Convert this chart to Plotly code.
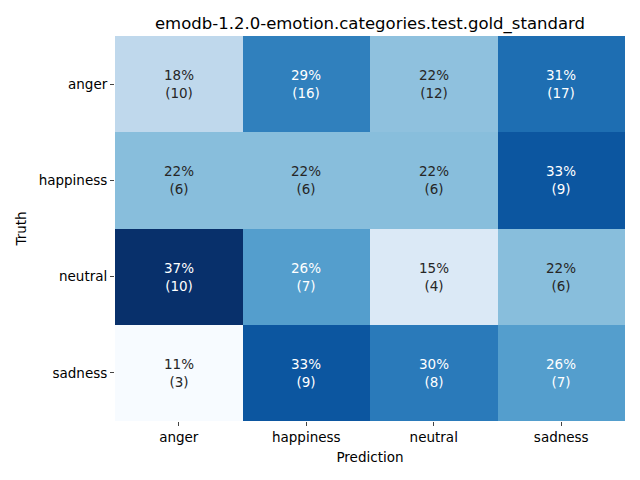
import plotly.graph_objects as go
import numpy as np

labels = ["anger", "happiness", "neutral", "sadness"]
counts = [
    [10, 16, 12, 17],
    [6, 6, 6, 9],
    [10, 7, 4, 6],
    [3, 9, 8, 7],
]
title = "emodb-1.2.0-emotion.categories.test.gold_standard"

blues = ["#f7fbff", "#deebf7", "#c6dbef", "#9ecae1", "#6baed6",
         "#4292c6", "#2171b5", "#08519c", "#08306b"]
colorscale = [[i / (len(blues) - 1), c] for i, c in enumerate(blues)]

cnt = np.array(counts, dtype=float)
pct = cnt / cnt.sum(axis=1, keepdims=True) * 100
zmin, zmax = pct.min(), pct.max()

def hex2rgb(h):
    h = h.lstrip("#")
    return [int(h[i:i + 2], 16) / 255 for i in (0, 2, 4)]

def color_at(t):
    pos = t * (len(blues) - 1)
    i = min(int(np.floor(pos)), len(blues) - 2)
    f = pos - i
    a, b = np.array(hex2rgb(blues[i])), np.array(hex2rgb(blues[i + 1]))
    return a + (b - a) * f

def lum(rgb):
    c = np.where(rgb <= 0.03928, rgb / 12.92, ((rgb + 0.055) / 1.055) ** 2.4)
    return 0.2126 * c[0] + 0.7152 * c[1] + 0.0722 * c[2]

fig = go.Figure(go.Heatmap(
    z=pct, x=labels, y=labels, colorscale=colorscale,
    zmin=zmin, zmax=zmax, showscale=False, hoverinfo="skip",
))

for r, rl in enumerate(labels):
    for c, cl in enumerate(labels):
        t = (pct[r, c] - zmin) / (zmax - zmin)
        col = "#262626" if lum(color_at(t)) > 0.408 else "white"
        fig.add_annotation(
            x=cl, y=rl, text=f"{round(pct[r, c]):.0f}%<br>({counts[r][c]})",
            showarrow=False, font=dict(color=col, size=13.5, family="DejaVu Sans"),
        )

# page body has an 8px margin; compensate so the plot lands where the reference has it
W, H = 632, 472
fig.update_layout(
    width=W, height=H,
    margin=dict(l=107, r=15, t=28, b=59),
    paper_bgcolor="white", plot_bgcolor="white",
    font=dict(family="DejaVu Sans", size=13.5, color="black"),
    title=dict(text=title, x=(107 + W - 15) / 2 / W, xanchor="center",
               y=1 - 15 / H, yanchor="middle", font=dict(size=16.5)),
)
fig.update_xaxes(title=dict(text="Prediction", standoff=8, font=dict(size=13.5)),
                 ticks="outside", ticklen=4,
                 showgrid=False, zeroline=False, showline=False)
fig.update_yaxes(title=dict(text="Truth", standoff=8, font=dict(size=13.5)),
                 ticks="outside", ticklen=4,
                 autorange="reversed", showgrid=False, zeroline=False, showline=False)

fig.write_html("out.html")
